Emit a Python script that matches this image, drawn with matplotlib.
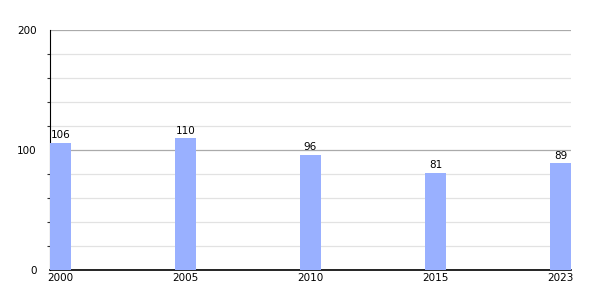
import matplotlib.pyplot as plt
import numpy as np

# data
years = ['2000', '2005', '2010', '2015', '2023']
values = [106, 110, 96, 81, 89]

bar_color = '#99b0ff'
bar_w = 0.168

fig = plt.figure(figsize=(6, 3), dpi=100)
ax = fig.add_axes([50 / 600, 30 / 300, 521 / 600, 240 / 300])

x = np.arange(len(years))
ax.bar(x, values, width=bar_w, align='edge', color=bar_color, zorder=3)

for xi, v in zip(x, values):
    ax.text(xi + bar_w / 2, v + 2, str(v), ha='center', va='bottom', fontsize=7.5, zorder=4)

ax.set_xlim(0, len(years) - 1 + bar_w)
ax.set_ylim(0, 200)
ax.set_xticks(x + bar_w / 2)
ax.set_xticklabels(years, fontsize=7.5)
ax.set_yticks([0, 100, 200])
ax.set_yticklabels(['0', '100', '200'], fontsize=7.5)
ax.set_yticks(np.arange(20, 200, 20), minor=True)

ax.grid(axis='y', which='major', color='#aaaaaa', linewidth=0.9, zorder=0)
ax.grid(axis='y', which='minor', color='#e2e2e2', linewidth=0.9, zorder=0)

ax.tick_params(axis='x', length=0, pad=2)
ax.tick_params(axis='y', which='major', length=0, pad=9.5)
ax.tick_params(axis='y', which='minor', length=2.5, width=0.8, color='#333333')

for s in ['top', 'right']:
    ax.spines[s].set_visible(False)
ax.spines['left'].set_color('black')
ax.spines['bottom'].set_color('black')
ax.spines['bottom'].set_linewidth(1.2)

fig.savefig('out.png', dpi=100)
